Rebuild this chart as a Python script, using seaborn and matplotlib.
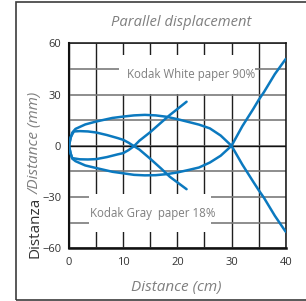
import numpy as np
import pandas as pd
import matplotlib
matplotlib.use("Agg")
import matplotlib.pyplot as plt
import seaborn as sns
from matplotlib.patches import Rectangle
from matplotlib.ticker import MultipleLocator

# --- data ---
outer_up_x = [0, 0.3, 0.6, 1.2, 3, 5, 8, 10, 12, 14, 16, 18, 20, 22, 24, 26, 28, 30, 32, 34, 35, 36, 38, 40]
outer_up_y = [0, 4.5, 7.7, 9.9, 12.5, 14.2, 16.3, 17.1, 17.8, 18.1, 17.8, 17.0, 15.6, 14.0, 12.4, 10.2, 6.0, 0,
              -11, -21, -25.9, -30.5, -41, -50.3]
outer_dn_x = [0, 0.3, 0.6, 1.2, 3, 5, 8, 10, 12, 14, 16, 18, 20, 22, 24, 26, 28, 30, 32, 34, 35, 36, 38, 40]
outer_dn_y = [0, -4.5, -7.5, -9.0, -11.5, -13.0, -15.2, -16.1, -17.0, -17.3, -17.2, -16.6, -15.6, -14.2, -12.7,
              -9.8, -5.8, 0, 11.5, 21.5, 26.8, 31.5, 42, 50.8]
inner_up_x = [0, 0.3, 0.9, 2, 3.5, 5, 7, 9, 10, 11, 12, 13, 15, 17, 18.6, 20, 21.7]
inner_up_y = [0, 5.0, 8.4, 8.6, 8.4, 7.8, 6.3, 4.5, 3.5, 1.8, -0.2, -2.2, -7.6, -13.3, -18.1, -21.4, -25.4]
inner_dn_x = [0, 0.3, 0.6, 2, 3.5, 5, 7, 9, 10, 11, 12, 13, 15, 17, 18.6, 20, 21.7]
inner_dn_y = [0, -4.5, -7.2, -7.9, -8.0, -7.8, -6.6, -5.0, -4.3, -2.5, -0.2, 3.0, 8.0, 13.6, 18.0, 21.5, 25.8]

x_ticks = [0, 10, 20, 30, 40]
y_ticks = [-60, -30, 0, 30, 60]
label_white = "Kodak White paper 90%"
label_gray = "Kodak Gray  paper 18%"

frames = []
for name, xs, ys in [("outer_up", outer_up_x, outer_up_y), ("outer_dn", outer_dn_x, outer_dn_y),
                     ("inner_up", inner_up_x, inner_up_y), ("inner_dn", inner_dn_x, inner_dn_y)]:
    frames.append(pd.DataFrame({"x": xs, "y": ys, "curve": name}))
df = pd.concat(frames, ignore_index=True)

sns.set_theme(style="white")
plt.rcParams["font.family"] = ["Open Sans", "DejaVu Sans"]

blue = "#0b79bf"
gray_txt = "#7f7f7f"
dark_txt = "#333333"

fig = plt.figure(figsize=(3.06, 3.01), dpi=100)
ax = fig.add_axes([69 / 306, 1 - 248.3 / 301, 216.7 / 306, 205 / 301])

sns.lineplot(data=df, x="x", y="y", units="curve", estimator=None, sort=False,
             color=blue, linewidth=1.8, ax=ax, zorder=3)

ax.set_xlim(0, 40)
ax.set_ylim(-60, 60)
ax.xaxis.set_minor_locator(MultipleLocator(5))
ax.yaxis.set_minor_locator(MultipleLocator(15))
ax.set_xticks(x_ticks)
ax.set_yticks(y_ticks)

# grid
ax.set_axisbelow(True)
ax.xaxis.grid(True, which="both", color="#1e1e1e", linewidth=1.0)
ax.yaxis.grid(True, which="both", color="#7a7a7a", linewidth=1.2)
ax.axhline(0, color="#111111", linewidth=1.0, zorder=0.6)

# white boxes behind the labels
ax.add_patch(Rectangle((9.2, 30.5), 25.2, 22.5, facecolor="white", edgecolor="none", zorder=1))
ax.add_patch(Rectangle((3.75, -50.3), 22.55, 21.8, facecolor="white", edgecolor="none", zorder=1))
ax.text(22.6, 42, label_white, ha="center", va="center", fontsize=8.3, color=gray_txt, zorder=4)
ax.text(15.5, -39.5, label_gray, ha="center", va="center", fontsize=8.3, color=gray_txt, zorder=4)

for side in ["left", "bottom", "top", "right"]:
    ax.spines[side].set_visible(True)
    ax.spines[side].set_color("#111111")
ax.spines["left"].set_linewidth(1.5)
ax.spines["bottom"].set_linewidth(1.8)
ax.spines["top"].set_linewidth(1.1)
ax.spines["right"].set_linewidth(1.1)

ax.tick_params(axis="both", which="major", direction="out", length=3.5, width=1.1,
               color="#111111", labelsize=8, labelcolor=dark_txt, pad=2)
ax.tick_params(axis="both", which="minor", length=0)
ax.tick_params(axis="x", pad=3)
ax.set_xlabel("")
ax.set_ylabel("")

# title and axis labels
fig.text(181 / 306, 1 - 22 / 301, "Parallel displacement", ha="center", va="center",
         fontsize=10.6, style="italic", color=gray_txt)
fig.text(176 / 306, 1 - 287 / 301, "Distance (cm)", ha="center", va="center",
         fontsize=11, style="italic", color=gray_txt)

t1 = fig.text(35 / 306, 1 - 258 / 301, "Distanza", rotation=90, ha="center", va="bottom",
              fontsize=11, color=dark_txt)
fig.canvas.draw()
bb = t1.get_window_extent()
t2_y = (bb.y1 + 3) / fig.bbox.height
fig.text(35 / 306, t2_y, "/Distance (mm)", rotation=90, ha="center", va="bottom",
         fontsize=11, style="italic", color=gray_txt)

# outer frame
fig.patches.append(Rectangle((16 / 306, 1 - 300 / 301), 1.0, 298 / 301, transform=fig.transFigure,
                             fill=False, edgecolor="#3c3c3c", linewidth=1.2))

fig.savefig("out.png", dpi=100)
